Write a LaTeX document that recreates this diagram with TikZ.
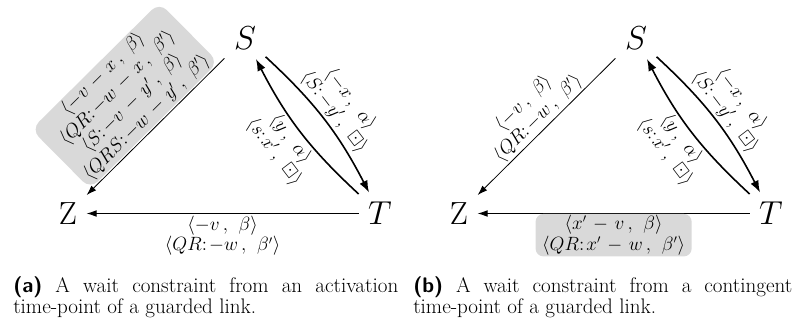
\documentclass[tikz,border=0pt]{standalone}
\usepackage{amsmath,amssymb}
\usetikzlibrary{arrows.meta}
\newcommand{\pr}[2]{\medmuskip=6mu\relax\langle #1\mkern3mu,\mkern7mu #2\rangle}
\newcommand{\cl}{{:}\mkern2mu}
\begin{document}
\begin{tikzpicture}[x=0.75pt,y=0.75pt,
  vtx/.style={inner sep=7pt, font=\fontsize{24}{28}\selectfont},
  thinarr/.style={line width=0.6pt, -{Latex[length=7.5pt,width=5pt]}},
  thickarr/.style={line width=1.2pt, -{Latex[length=9pt,width=6.5pt]}},
  lbl/.style={font=\fontsize{13.5}{15.5}\selectfont, align=center, inner sep=1.5pt},
  graybox/.style={fill=gray!30, rounded corners=8pt},
  capbox/.style={anchor=north west, align=justify, inner sep=0pt, font=\fontsize{15.8}{15.75}\selectfont}
]
\useasboundingbox (0,0) rectangle (797,-325);

% ---------- panel (a)
\node[vtx] (Sa) at (245,-38) {$S$};
\node[vtx] (Ta) at (380,-213.5) {$T$};
\node[vtx] (Za) at (68,-213.5) {Z};

\draw[thinarr] (Ta) -- (Za)
  node[midway, below, lbl] {$\pr{-v}{\beta}$\\ $\pr{QR\cl{-}w}{\beta'}$};
\draw[thinarr] (Sa) -- (Za)
  node[midway, sloped, above=1pt, lbl, graybox, inner xsep=4pt, inner ysep=1pt]
  {$\pr{-v - x}{\beta}$\\ $\pr{QR\cl{-}w - x}{\beta'}$\\
   $\pr{S\cl{-}v - y'}{\beta}$\\ $\pr{QRS\cl{-}w - y'}{\beta'}$};
\draw[thickarr] (Sa) to[bend left=10]
  node[midway, sloped, above, lbl] {$\pr{-x}{\alpha}$\\ $\pr{S\cl{-}y'}{\boxdot}$} (Ta);
\draw[thickarr] (Ta) to[bend left=10]
  node[midway, sloped, below, lbl] {$\pr{y}{\alpha}$\\ $\pr{s\cl x'}{\boxdot}$} (Sa);

% ---------- panel (b)
\node[vtx] (Sb) at (636,-38) {$S$};
\node[vtx] (Tb) at (771,-213.5) {$T$};
\node[vtx] (Zb) at (459,-213.5) {Z};

\draw[thinarr] (Tb) -- (Zb)
  node[midway, below, lbl, graybox, inner xsep=5pt, inner ysep=1pt, rounded corners=6pt]
  {$\pr{x' - v}{\beta}$\\ $\pr{QR\cl x' - w}{\beta'}$};
\draw[thinarr] (Sb) -- (Zb)
  node[midway, sloped, above, lbl] {$\pr{-v}{\beta}$\\ $\pr{QR\cl{-}w}{\beta'}$};
\draw[thickarr] (Sb) to[bend left=10]
  node[midway, sloped, above, lbl] {$\pr{-x}{\alpha}$\\ $\pr{S\cl{-}y'}{\boxdot}$} (Tb);
\draw[thickarr] (Tb) to[bend left=10]
  node[midway, sloped, below, lbl] {$\pr{y}{\alpha}$\\ $\pr{s\cl x'}{\boxdot}$} (Sb);

% ---------- captions
\node[capbox, text width=288.75pt] (capa) at (13,-276)
  {{\sffamily\bfseries (a)} A wait constraint from an activation\linebreak time-point of a guarded link.};
\node[capbox, text width=284.25pt] (capb) at (413,-276)
  {{\sffamily\bfseries (b)} A wait constraint from a contingent\linebreak time-point of a guarded link.};
\end{tikzpicture}
\end{document}
